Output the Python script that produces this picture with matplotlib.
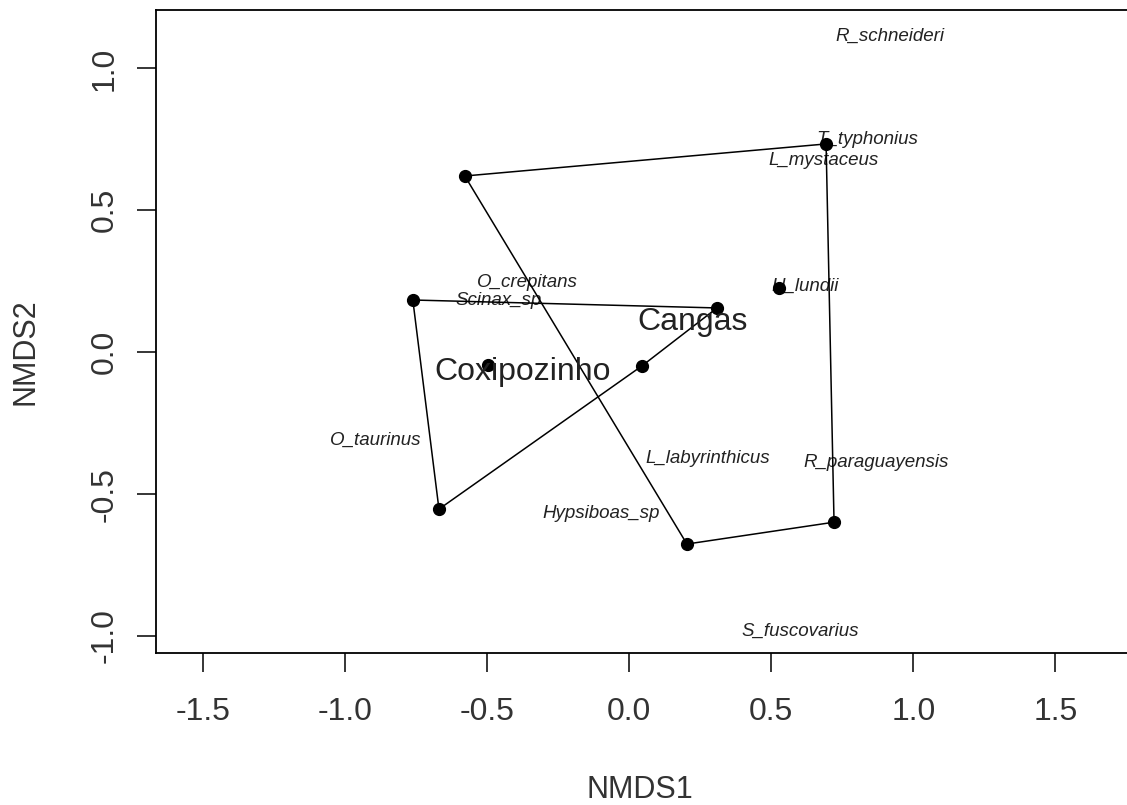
import matplotlib
matplotlib.use("Agg")
import matplotlib.pyplot as plt
import numpy as np

plt.rcParams['font.family'] = ['Liberation Sans', 'DejaVu Sans']

# Site scores (NMDS1, NMDS2) and their group
site_x = [-0.579, 0.693, 0.721, 0.203, 0.527, -0.762, 0.309, -0.670, -0.498, 0.045]
site_y = [0.621, 0.734, -0.599, -0.676, 0.226, 0.184, 0.156, -0.553, -0.045, -0.048]
site_group = ["Cangas", "Cangas", "Cangas", "Cangas", "Cangas",
              "Coxipozinho", "Coxipozinho", "Coxipozinho", "Coxipozinho", "Coxipozinho"]

# Group label positions
group_names = ["Cangas", "Coxipozinho"]
group_lx = [0.224, -0.375]
group_ly = [0.106, -0.070]

# Species scores
species = ["R_schneideri", "T_typhonius", "L_mystaceus", "O_crepitans", "Scinax_sp",
           "H_lundii", "O_taurinus", "L_labyrinthicus", "R_paraguayensis",
           "Hypsiboas_sp", "S_fuscovarius"]
sp_x = [0.918, 0.837, 0.685, -0.357, -0.459, 0.618, -0.892, 0.277, 0.869, -0.100, 0.601]
sp_y = [1.114, 0.748, 0.674, 0.247, 0.184, 0.233, -0.309, -0.376, -0.390, -0.567, -0.982]

xticks = [-1.5, -1.0, -0.5, 0.0, 0.5, 1.0, 1.5]
yticks = [-1.0, -0.5, 0.0, 0.5, 1.0]


def convex_hull(pts):
    pts = sorted(set(pts))
    if len(pts) <= 2:
        return pts
    def cross(o, a, b):
        return (a[0]-o[0])*(b[1]-o[1]) - (a[1]-o[1])*(b[0]-o[0])
    lower = []
    for p in pts:
        while len(lower) >= 2 and cross(lower[-2], lower[-1], p) <= 0:
            lower.pop()
        lower.append(p)
    upper = []
    for p in reversed(pts):
        while len(upper) >= 2 and cross(upper[-2], upper[-1], p) <= 0:
            upper.pop()
        upper.append(p)
    return lower[:-1] + upper[:-1]


W, H = 1127, 805
fig = plt.figure(figsize=(W/100, H/100), dpi=100)
left, right, top, bottom = 155.5, 1140.5, 10, 653
ax = fig.add_axes([left/W, 1-bottom/H, (right-left)/W, (bottom-top)/H])
ax.set_xlim(-1.668, 1.8)
ax.set_ylim(-1.060, 1.206)

for s, x, y in zip(species, sp_x, sp_y):
    ax.text(x, y, s, fontsize=13.5, style='italic', ha='center', va='center', color='#222222', zorder=2)

for g in group_names:
    pts = [(x, y) for x, y, gg in zip(site_x, site_y, site_group) if gg == g]
    hull = convex_hull(pts)
    hx = [p[0] for p in hull] + [hull[0][0]]
    hy = [p[1] for p in hull] + [hull[0][1]]
    ax.plot(hx, hy, color='black', lw=1.1, zorder=3)

ax.plot(site_x, site_y, 'o', color='black', markersize=8.5, zorder=4)

for g, x, y in zip(group_names, group_lx, group_ly):
    ax.text(x, y, g, fontsize=23, ha='center', va='center', color='#222222', zorder=5)

ax.set_xticks(xticks)
ax.set_xticklabels([f"{t:.1f}" for t in xticks])
ax.set_yticks(yticks)
ax.set_yticklabels([f"{t:.1f}" for t in yticks], rotation=90, va='center')
ax.tick_params(axis='both', length=14, width=1.1, labelsize=23, colors='black', labelcolor='#333333')
ax.tick_params(axis='x', pad=18)
ax.tick_params(axis='y', pad=12)
for sp in ax.spines.values():
    sp.set_linewidth(1.3)

fig.text(640/W, 1-790/H, "NMDS1", fontsize=22, ha='center', va='center', color='#333333')
fig.text(25/W, 1-352/H, "NMDS2", fontsize=22, ha='center', va='center', rotation=90, color='#333333')

fig.savefig("out.png", dpi=100)
